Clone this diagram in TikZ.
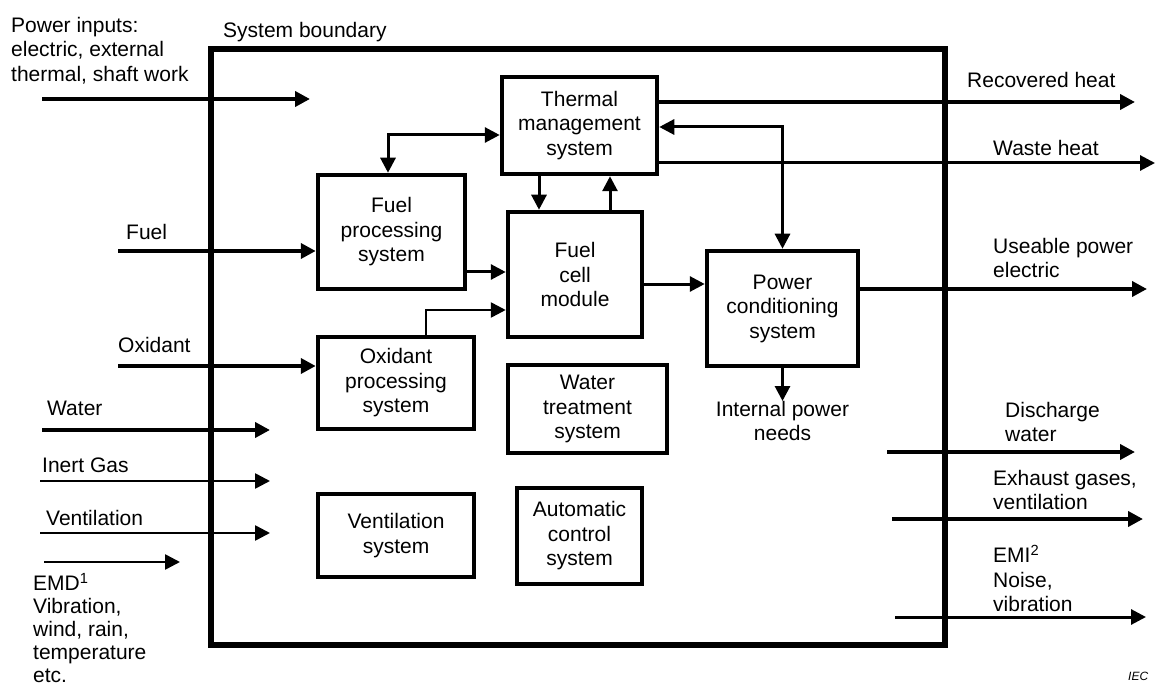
\documentclass[tikz,border=0pt]{standalone}
\usepackage{fontspec}
\setmainfont{Liberation Sans}
\usetikzlibrary{arrows.meta}
\begin{document}
\begin{tikzpicture}[x=1pt,y=-1pt,
  every node/.style={font=\fontsize{21}{24.5}\selectfont},
  box/.style={draw, line width=4.5pt, align=center, inner sep=0pt},
  lbl/.style={anchor=north west, inner sep=0pt, align=left},
  tip/.style={-{Triangle[length=15pt,width=15pt]}},
  tips/.style={{Triangle[length=15pt,width=15pt]}-{Triangle[length=15pt,width=15pt]}},
  heavy/.style={line width=4.2pt},
  light/.style={line width=2.6pt},
  link/.style={line width=3pt},
]
\useasboundingbox (0,0) rectangle (1157,687);

% system boundary
\draw[line width=5.5pt] (211,49) rectangle (945,645);

% subsystems
\node[box, minimum width=155pt, minimum height=97pt]  (tms) at (579.5,125.5) {Thermal\\management\\system};
\node[box, minimum width=147pt, minimum height=114pt] (fps) at (391.5,232)   {Fuel\\processing\\system};
\node[box, minimum width=134pt, minimum height=125pt] (fcm) at (575,274.5)   {Fuel\\cell\\module};
\node[box, minimum width=151pt, minimum height=115pt] (pcs) at (782.5,308.5) {Power\\conditioning\\system};
\node[box, minimum width=156pt, minimum height=92pt]  (ops) at (396,383)     {Oxidant\\processing\\system};
\node[box, minimum width=159pt, minimum height=88pt]  (wts) at (587.5,409)   {Water\\treatment\\system};
\node[box, minimum width=156pt, minimum height=83pt]  (vs)  at (396,535.5)   {Ventilation\\system};
\node[box, minimum width=125pt, minimum height=96pt]  (acs) at (579.5,536)   {Automatic\\control\\system};

\node[anchor=north, inner sep=0pt, align=center] (ipn) at (782.5,401) {Internal power\\needs};

% inputs
\coordinate (pwrA) at (42,99);  \coordinate (pwrB) at (310,99);
\draw[heavy,tip] (pwrA) -- (pwrB);
\coordinate (fuelA) at (118,251);
\draw[heavy,tip] (fuelA) -- (fuelA -| fps.west);
\coordinate (oxA) at (118,366);
\draw[heavy,tip] (oxA) -- (oxA -| ops.west);
\coordinate (watA) at (42,430); \coordinate (watB) at (270,430);
\draw[heavy,tip] (watA) -- (watB);
\coordinate (gasA) at (40,481); \coordinate (gasB) at (270,481);
\draw[light,tip] (gasA) -- (gasB);
\coordinate (venA) at (40,533); \coordinate (venB) at (270,533);
\draw[light,tip] (venA) -- (venB);
\coordinate (emdA) at (44,562); \coordinate (emdB) at (180,562);
\draw[light,tip] (emdA) -- (emdB);

% outputs
\coordinate (recB) at (1135,102);
\draw[heavy,tip] (recB -| tms.east) -- (recB);
\coordinate (wasB) at (1155,163);
\draw[link,tip] (wasB -| tms.east) -- (wasB);
\coordinate (useB) at (1147,289);
\draw[heavy,tip] (useB -| pcs.east) -- (useB);
\coordinate (disA) at (887,452); \coordinate (disB) at (1135,452);
\draw[heavy,tip] (disA) -- (disB);
\coordinate (exhA) at (892,519); \coordinate (exhB) at (1143,519);
\draw[heavy,tip] (exhA) -- (exhB);
\coordinate (emiA) at (895,617); \coordinate (emiB) at (1146,617);
\draw[link,tip] (emiA) -- (emiB);

% internal flows
\coordinate (tf) at (388,135);
\draw[link,tips] (tf -| tms.west) -- (tf) -- (tf |- fps.north);
\coordinate (dn) at (539,0);
\draw[link,tip] (dn |- tms.south) -- (dn |- fcm.north);
\coordinate (upw) at (610,0);
\draw[link,tip] (upw |- fcm.north) -- (upw |- tms.south);
\coordinate (tp) at (782.5,127);
\draw[link,tips] (tp -| tms.east) -- (tp) -- (tp |- pcs.north);
\coordinate (ff) at (0,272);
\draw[link,tip] (ff -| fps.east) -- (ff -| fcm.west);
\coordinate (of) at (426,310);
\draw[light,tip] (of |- ops.north) -- (of) -- (of -| fcm.west);
\coordinate (fp) at (0,284);
\draw[link,tip] (fp -| fcm.east) -- (fp -| pcs.west);
\draw[link,tip] (pcs.south) -- (ipn.north);

% labels
\node[lbl] (lpwr) at (11,17)  {Power inputs:\\electric, external\\thermal, shaft work};
\node[lbl] (lsys) at (223,22) {System boundary};
\node[lbl] (lfuel) at (126,224) {Fuel};
\node[lbl] (lox)  at (118,337) {Oxidant};
\node[lbl] (lwat) at (47,401)  {Water};
\node[lbl] (lgas) at (42,458)  {Inert Gas};
\node[lbl] (lven) at (46,510)  {Ventilation};
\node[lbl, font=\fontsize{21}{23}\selectfont] (lemd) at (33,573)  {EMD\textsuperscript{1}\\Vibration,\\wind, rain,\\temperature\\etc.};

\node[lbl] (lrec) at (967,72)   {Recovered heat};
\node[lbl] (lwas) at (993,140)  {Waste heat};
\node[lbl] (luse) at (993,238)  {Useable power\\electric};
\node[lbl] (ldis) at (1005,402) {Discharge\\water};
\node[lbl] (lexh) at (993,470)  {Exhaust gases,\\ventilation};
\node[lbl] (lemi) at (993,545)  {EMI\textsuperscript{2}\\Noise,\\vibration};
\node[anchor=base west, inner sep=0pt, font=\fontsize{12}{14}\selectfont\itshape] (iec) at (1128,680) {IEC};
\end{tikzpicture}
\end{document}
